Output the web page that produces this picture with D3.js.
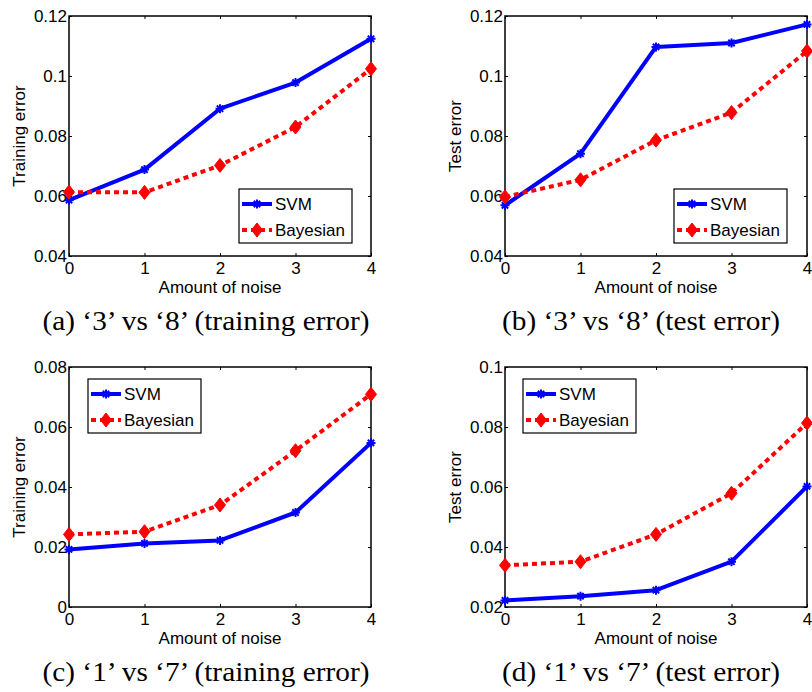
<!DOCTYPE html>
<html>
<head>
<meta charset="utf-8">
<script src="https://cdn.jsdelivr.net/npm/d3@7"></script>
<style>
  body { margin: 0; background: #fff; }
  svg { display: block; }
</style>
</head>
<body>
<div id="chart"></div>
<script>
// noise levels on the x axis
var noise = [0, 1, 2, 3, 4];

// '3' vs '8'
var svmTrain38 = [0.0586, 0.0688, 0.0891, 0.0978, 0.1124];
var bayesTrain38 = [0.0613, 0.0612, 0.0702, 0.0830, 0.1024];
var svmTest38 = [0.0569, 0.0741, 0.1097, 0.1110, 0.1172];
var bayesTest38 = [0.0597, 0.0654, 0.0786, 0.0878, 0.1083];

// '1' vs '7'
var svmTrain17 = [0.0192, 0.0212, 0.0222, 0.0315, 0.0547];
var bayesTrain17 = [0.0242, 0.0251, 0.0340, 0.0521, 0.0709];
var svmTest17 = [0.0222, 0.0236, 0.0256, 0.0351, 0.0602];
var bayesTest17 = [0.0339, 0.0351, 0.0442, 0.0579, 0.0813];

// tick values
var yTicks38 = [0.04, 0.06, 0.08, 0.1, 0.12];
var yTicksTrain17 = [0, 0.02, 0.04, 0.06, 0.08];
var yTicksTest17 = [0.02, 0.04, 0.06, 0.08, 0.1];

var seriesNames = ["SVM", "Bayesian"];

var panels = [
  { left: 69, top: 16, svm: svmTrain38, bayes: bayesTrain38, ticks: yTicks38, ylabel: "Training error",
    caption: "(a) \u20183\u2019 vs \u20188\u2019 (training error)", capX: 206, capW: 327, legX: 170, legY: 173 },
  { left: 505, top: 16, svm: svmTest38, bayes: bayesTest38, ticks: yTicks38, ylabel: "Test error",
    caption: "(b) \u20183\u2019 vs \u20188\u2019 (test error)", capX: 641, capW: 278, legX: 169, legY: 173 },
  { left: 69, top: 367, svm: svmTrain17, bayes: bayesTrain17, ticks: yTicksTrain17, ylabel: "Training error",
    caption: "(c) \u20181\u2019 vs \u20187\u2019 (training error)", capX: 206, capW: 327, legX: 19, legY: 12 },
  { left: 505, top: 367, svm: svmTest17, bayes: bayesTest17, ticks: yTicksTest17, ylabel: "Test error",
    caption: "(d) \u20181\u2019 vs \u20187\u2019 (test error)", capX: 641, capW: 278, legX: 18, legY: 12 }
];

var W = 812, H = 692;
var pw = 302, ph = 240;
var blue = "#0000ff", red = "#ff0000";
var sans = "'Liberation Sans', Arial, sans-serif";
var serif = "'Liberation Serif', 'Times New Roman', Times, serif";

var svg = d3.select("#chart").append("svg")
    .attr("width", W)
    .attr("height", H)
    .attr("font-family", sans);

var fmt = function (d) { return String(+d.toFixed(2)); };

// asterisk marker (plus + cross)
function starPath(s) {
  var a = s * 0.7071;
  return "M" + (-s) + ",0L" + s + ",0M0," + (-s) + "L0," + s +
    "M" + (-a) + "," + (-a) + "L" + a + "," + a +
    "M" + (-a) + "," + a + "L" + a + "," + (-a);
}
function diamondPath(w, h) {
  return "M0," + (-h) + "L" + w + ",0L0," + h + "L" + (-w) + ",0Z";
}

panels.forEach(function (p) {
  var g = svg.append("g").attr("transform", "translate(" + p.left + "," + p.top + ")");

  var x = d3.scaleLinear().domain([0, 4]).range([0, pw]);
  var y = d3.scaleLinear().domain([p.ticks[0], p.ticks[p.ticks.length - 1]]).range([ph, 0]);

  // axes with inward ticks
  g.append("g")
      .call(d3.axisLeft(y).tickValues(p.ticks).tickFormat(fmt).tickSizeInner(-3).tickSizeOuter(0).tickPadding(2));
  g.append("g").attr("transform", "translate(0," + ph + ")")
      .call(d3.axisBottom(x).tickValues(noise).tickFormat(d3.format("d")).tickSizeInner(-3).tickSizeOuter(0).tickPadding(6));
  g.append("g").attr("transform", "translate(" + pw + ",0)")
      .call(d3.axisRight(y).tickValues(p.ticks).tickFormat("").tickSizeInner(-3).tickSizeOuter(0));
  g.append("g")
      .call(d3.axisTop(x).tickValues(noise).tickFormat("").tickSizeInner(-3).tickSizeOuter(0));

  g.selectAll(".domain").remove();
  g.selectAll(".tick line").attr("stroke", "#000").attr("stroke-width", 1);
  g.selectAll(".tick text").attr("font-size", 17).attr("fill", "#000")
      .attr("font-family", sans);

  g.append("rect")
      .attr("width", pw).attr("height", ph)
      .attr("fill", "none").attr("stroke", "#000").attr("stroke-width", 1.5);

  // axis labels
  g.append("text")
      .attr("x", pw / 2).attr("y", ph + 37)
      .attr("text-anchor", "middle").attr("font-size", 17)
      .text("Amount of noise");
  g.append("text")
      .attr("transform", "translate(-44," + (ph / 2) + ") rotate(-90)")
      .attr("text-anchor", "middle").attr("font-size", 17)
      .text(p.ylabel);

  var line = d3.line().x(function (d, i) { return x(noise[i]); }).y(function (d) { return y(d); });

  // SVM
  g.append("path").datum(p.svm)
      .attr("d", line).attr("fill", "none")
      .attr("stroke", blue).attr("stroke-width", 4).attr("stroke-linejoin", "round");
  g.selectAll(".svmpt").data(p.svm).enter().append("path")
      .attr("class", "svmpt")
      .attr("transform", function (d, i) { return "translate(" + x(noise[i]) + "," + y(d) + ")"; })
      .attr("d", starPath(4.5)).attr("stroke", blue).attr("stroke-width", 2).attr("fill", "none");

  // Bayesian
  g.append("path").datum(p.bayes)
      .attr("d", line).attr("fill", "none")
      .attr("stroke", red).attr("stroke-width", 4).attr("stroke-dasharray", "5,4");
  g.selectAll(".bayespt").data(p.bayes).enter().append("path")
      .attr("class", "bayespt")
      .attr("transform", function (d, i) { return "translate(" + x(noise[i]) + "," + y(d) + ")"; })
      .attr("d", diamondPath(5.5, 7)).attr("fill", red).attr("stroke", red).attr("stroke-width", 1);

  // legend
  var lg = g.append("g").attr("transform", "translate(" + p.legX + "," + p.legY + ")");
  lg.append("rect").attr("width", 113).attr("height", 54)
      .attr("fill", "#fff").attr("stroke", "#000").attr("stroke-width", 1.2);
  seriesNames.forEach(function (name, k) {
    var cy = k === 0 ? 15 : 41;
    var row = lg.append("g").attr("transform", "translate(0," + cy + ")");
    row.append("line").attr("x1", 3).attr("x2", 33).attr("y1", 0).attr("y2", 0)
        .attr("stroke", k === 0 ? blue : red).attr("stroke-width", 4)
        .attr("stroke-dasharray", k === 0 ? null : "5,4");
    row.append("path").attr("transform", "translate(18,0)")
        .attr("d", k === 0 ? starPath(4.5) : diamondPath(5.5, 7))
        .attr("fill", k === 0 ? "none" : red)
        .attr("stroke", k === 0 ? blue : red).attr("stroke-width", k === 0 ? 2 : 1);
    row.append("text").attr("x", 36).attr("y", 6)
        .attr("font-size", 17).text(name);
  });

  // caption
  svg.append("text")
      .attr("x", p.capX).attr("y", p.top + 314)
      .attr("text-anchor", "middle")
      .attr("font-family", serif)
      .attr("font-size", 28)
      .attr("textLength", p.capW).attr("lengthAdjust", "spacingAndGlyphs")
      .text(p.caption);
});
</script>
</body>
</html>
